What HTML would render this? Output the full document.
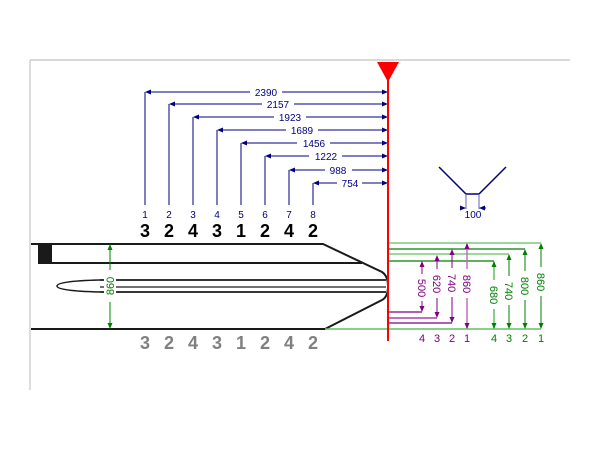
<!DOCTYPE html>
<html><head><style>body{margin:0;background:#fff}svg{display:block}text{font-family:"Liberation Sans",sans-serif}</style></head>
<body>
<svg width="600" height="450" viewBox="0 0 600 450" xmlns="http://www.w3.org/2000/svg">
<rect width="600" height="450" fill="#fff"/>
<line x1="30" y1="60" x2="570" y2="60" stroke="#ccc" stroke-width="1.5"/>
<line x1="30" y1="60" x2="30" y2="390" stroke="#bbb" stroke-width="1"/>
<defs>
<marker id="ab" markerUnits="userSpaceOnUse" markerWidth="6" markerHeight="6" refX="5" refY="3" orient="auto"><path d="M0,0.5 L6,3 L0,5.5z" fill="#000080"/></marker>
<marker id="ap" markerUnits="userSpaceOnUse" markerWidth="6" markerHeight="6" refX="5" refY="3" orient="auto"><path d="M0,0.5 L6,3 L0,5.5z" fill="#800080"/></marker>
<marker id="ag" markerUnits="userSpaceOnUse" markerWidth="6" markerHeight="6" refX="5" refY="3" orient="auto"><path d="M0,0.5 L6,3 L0,5.5z" fill="#008000"/></marker>
</defs>
<g stroke="#000080" stroke-width="1" fill="none">
<line x1="145" y1="92" x2="145" y2="205"/><line x1="169" y1="104" x2="169" y2="205"/>
<line x1="193" y1="117" x2="193" y2="205"/><line x1="217" y1="130" x2="217" y2="205"/>
<line x1="241" y1="143" x2="241" y2="205"/><line x1="265" y1="156" x2="265" y2="205"/>
<line x1="289" y1="170" x2="289" y2="205"/><line x1="313" y1="183" x2="313" y2="205"/>
<line x1="250" y1="92" x2="146" y2="92" marker-end="url(#ab)"/><line x1="282" y1="92" x2="387" y2="92" marker-end="url(#ab)"/>
<line x1="262" y1="104" x2="170" y2="104" marker-end="url(#ab)"/><line x1="294" y1="104" x2="387" y2="104" marker-end="url(#ab)"/>
<line x1="274" y1="117" x2="194" y2="117" marker-end="url(#ab)"/><line x1="306" y1="117" x2="387" y2="117" marker-end="url(#ab)"/>
<line x1="286" y1="130" x2="218" y2="130" marker-end="url(#ab)"/><line x1="318" y1="130" x2="387" y2="130" marker-end="url(#ab)"/>
<line x1="297" y1="143" x2="242" y2="143" marker-end="url(#ab)"/><line x1="330" y1="143" x2="387" y2="143" marker-end="url(#ab)"/>
<line x1="309" y1="156" x2="266" y2="156" marker-end="url(#ab)"/><line x1="342" y1="156" x2="387" y2="156" marker-end="url(#ab)"/>
<line x1="325" y1="170" x2="290" y2="170" marker-end="url(#ab)"/><line x1="352" y1="170" x2="387" y2="170" marker-end="url(#ab)"/>
<line x1="337" y1="183" x2="314" y2="183" marker-end="url(#ab)"/><line x1="362" y1="183" x2="387" y2="183" marker-end="url(#ab)"/>
</g>
<g fill="#000080" font-size="10" text-anchor="middle">
<text x="266" y="96">2390</text><text x="278" y="108">2157</text><text x="290" y="121">1923</text><text x="302" y="134">1689</text>
<text x="314" y="147">1456</text><text x="326" y="160">1222</text><text x="338" y="174">988</text><text x="350" y="187">754</text>
<text x="145" y="218">1</text><text x="169" y="218">2</text><text x="193" y="218">3</text><text x="217" y="218">4</text>
<text x="241" y="218">5</text><text x="265" y="218">6</text><text x="289" y="218">7</text><text x="313" y="218">8</text>
</g>
<g fill="#000" font-size="18" font-weight="bold" text-anchor="middle">
<text x="145" y="237">3</text><text x="169" y="237">2</text><text x="193" y="237">4</text><text x="217" y="237">3</text>
<text x="241" y="237">1</text><text x="265" y="237">2</text><text x="289" y="237">4</text><text x="313" y="237">2</text>
</g>
<g fill="#808080" font-size="18" font-weight="bold" text-anchor="middle">
<text x="145" y="349">3</text><text x="169" y="349">2</text><text x="193" y="349">4</text><text x="217" y="349">3</text>
<text x="241" y="349">1</text><text x="265" y="349">2</text><text x="289" y="349">4</text><text x="313" y="349">2</text>
</g>
<g stroke="#1a1a1a" stroke-width="2" fill="none">
<path d="M31,244 L323,244 L382,272 Q388,276 388,286 Q388,297 382,300 L325,329 L31,329"/>
<line x1="38" y1="263" x2="362" y2="263"/>
<path d="M100,280 L386,280 M100,292 L386,292" stroke-width="1.8"/>
<path d="M100,287 L386,287" stroke-width="1.2"/>
<path d="M100,280 Q57,281 57,286 Q57,291 100,292" stroke-width="1.5"/>
</g>
<rect x="38" y="244" width="14" height="19" fill="#1a1a1a"/>
<rect x="104" y="276" width="12" height="20" fill="#fff"/>
<line x1="110" y1="270" x2="110" y2="245" stroke="#008000" marker-end="url(#ag)"/>
<line x1="110" y1="302" x2="110" y2="328" stroke="#008000" marker-end="url(#ag)"/>
<text transform="translate(114,286) rotate(-90)" text-anchor="middle" fill="#008000" font-size="11">860</text>
<g stroke-width="1.3">
<line x1="389" y1="243" x2="541" y2="243" stroke="#60c060"/>
<line x1="389" y1="249" x2="525" y2="249" stroke="#008000"/>
<line x1="389" y1="254" x2="509" y2="254" stroke="#60c060"/>
<line x1="389" y1="261" x2="494" y2="261" stroke="#008000"/>
<line x1="389" y1="312" x2="422" y2="312" stroke="#800080"/>
<line x1="389" y1="318" x2="437" y2="318" stroke="#c070c0" stroke-width="2"/>
<line x1="389" y1="323" x2="452" y2="323" stroke="#800080"/>
<line x1="325" y1="329" x2="541" y2="329" stroke="#60c060" stroke-width="1.5"/>
</g>
<g fill="none">
<line x1="422" y1="274" x2="422" y2="262" stroke="#800080" marker-end="url(#ap)"/><line x1="422" y1="301" x2="422" y2="311" stroke="#800080" marker-end="url(#ap)"/>
<line x1="437" y1="269" x2="437" y2="256" stroke="#800080" marker-end="url(#ap)"/><line x1="437" y1="298" x2="437" y2="317" stroke="#800080" marker-end="url(#ap)"/>
<line x1="452" y1="268" x2="452" y2="250" stroke="#800080" marker-end="url(#ap)"/><line x1="452" y1="297" x2="452" y2="322" stroke="#800080" marker-end="url(#ap)"/>
<line x1="467" y1="269" x2="467" y2="244" stroke="#c070c0" stroke-width="1.5" marker-end="url(#ap)"/><line x1="467" y1="298" x2="467" y2="328" stroke="#c070c0" stroke-width="1.5" marker-end="url(#ap)"/>
<line x1="494" y1="280" x2="494" y2="262" stroke="#60c060" stroke-width="1.5" marker-end="url(#ag)"/><line x1="494" y1="309" x2="494" y2="328" stroke="#60c060" stroke-width="1.5" marker-end="url(#ag)"/>
<line x1="509" y1="276" x2="509" y2="255" stroke="#008000" marker-end="url(#ag)"/><line x1="509" y1="305" x2="509" y2="328" stroke="#008000" marker-end="url(#ag)"/>
<line x1="525" y1="271" x2="525" y2="250" stroke="#008000" marker-end="url(#ag)"/><line x1="525" y1="300" x2="525" y2="328" stroke="#008000" marker-end="url(#ag)"/>
<line x1="541" y1="267" x2="541" y2="244" stroke="#008000" marker-end="url(#ag)"/><line x1="541" y1="296" x2="541" y2="328" stroke="#008000" marker-end="url(#ag)"/>
</g>
<g font-size="11" text-anchor="middle">
<text transform="translate(418,288) rotate(90)" fill="#800080">500</text>
<text transform="translate(433,284) rotate(90)" fill="#800080">620</text>
<text transform="translate(448,283) rotate(90)" fill="#800080">740</text>
<text transform="translate(463,284) rotate(90)" fill="#800080">860</text>
<text transform="translate(490,295) rotate(90)" fill="#008000">680</text>
<text transform="translate(505,291) rotate(90)" fill="#008000">740</text>
<text transform="translate(521,286) rotate(90)" fill="#008000">800</text>
<text transform="translate(537,282) rotate(90)" fill="#008000">860</text>
</g>
<g font-size="11" text-anchor="middle">
<text x="422" y="342" fill="#800080">4</text><text x="437" y="342" fill="#800080">3</text><text x="452" y="342" fill="#800080">2</text><text x="467" y="342" fill="#800080">1</text>
<text x="494" y="342" fill="#008000">4</text><text x="509" y="342" fill="#008000">3</text><text x="525" y="342" fill="#008000">2</text><text x="541" y="342" fill="#008000">1</text>
</g>
<line x1="388" y1="70" x2="388" y2="341" stroke="#ff0000" stroke-width="2"/>
<path d="M377,62 L399,62 L388,82z" fill="#ff0000"/>
<path d="M439,167 L466,194 L479,194 L506,167" stroke="#000080" stroke-width="1.5" fill="none"/>
<line x1="466" y1="194" x2="466" y2="209" stroke="#6060c0"/><line x1="479" y1="194" x2="479" y2="209" stroke="#6060c0"/>
<line x1="460" y1="208" x2="465" y2="208" stroke="#000080" marker-end="url(#ab)"/>
<line x1="486" y1="208" x2="480" y2="208" stroke="#000080" marker-end="url(#ab)"/>
<text x="473" y="218" fill="#000080" font-size="10" text-anchor="middle">100</text>
</svg>
</body></html>
